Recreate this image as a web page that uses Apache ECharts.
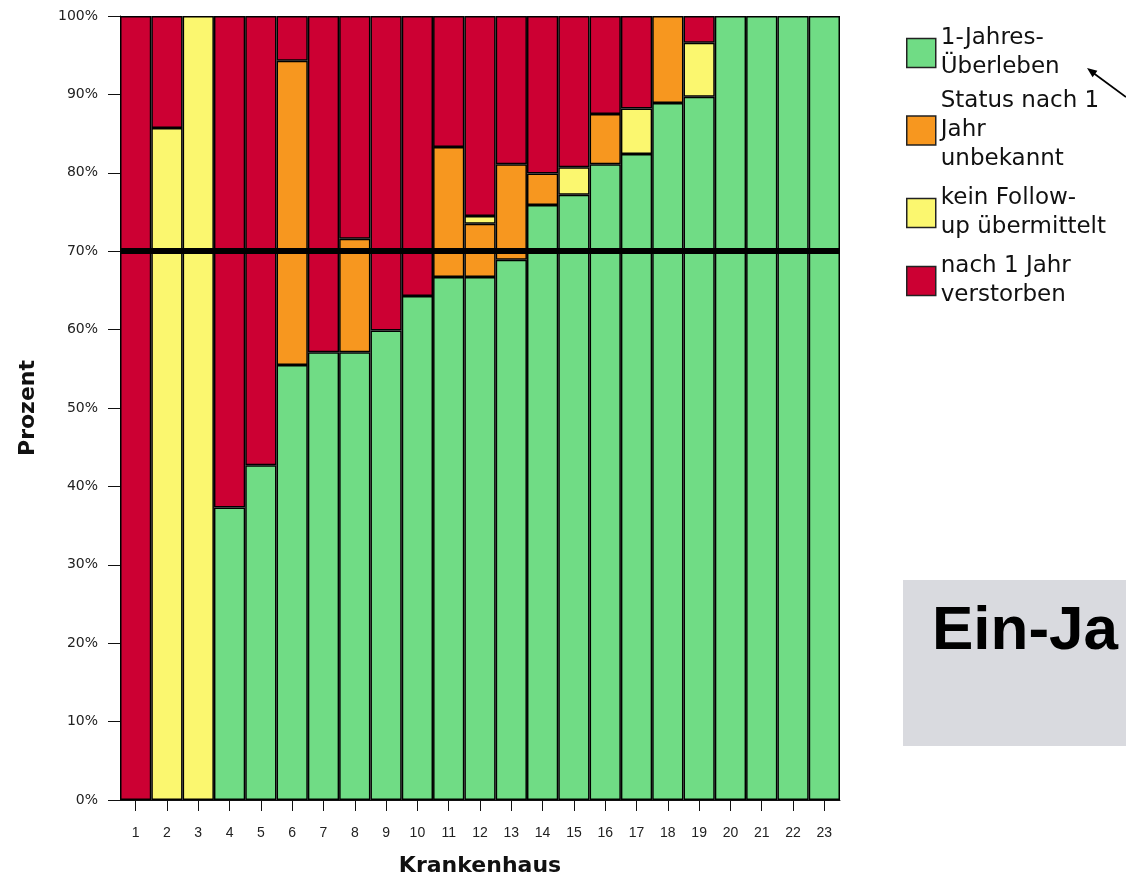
<!DOCTYPE html>
<html>
<head>
<meta charset="utf-8">
<script src="https://cdn.jsdelivr.net/npm/echarts@6/dist/echarts.min.js"></script>
<style>
html,body{margin:0;padding:0;background:#fff;}
#chart{width:1126px;height:878px;}
</style>
</head>
<body>
<div id="chart"></div>
<script>
const categories = ['1','2','3','4','5','6','7','8','9','10','11','12','13','14','15','16','17','18','19','20','21','22','23'];
const seriesNames = ['1-Jahres-\nÜberleben', 'Status nach 1\nJahr\nunbekannt', 'kein Follow-\nup übermittelt', 'nach 1 Jahr\nverstorben'];
const ueberleben = [0,0,0,37.3,42.7,55.5,57.1,57.1,59.9,64.3,66.7,66.7,68.9,75.9,77.2,81.1,82.4,88.9,89.7,100,100,100,100];
const unbekannt  = [0,0,0,0,0,38.8,0,14.5,0,0,16.6,6.8,12.2,4.0,0,6.4,0,11.1,0,0,0,0,0];
const keinFollowUp = [0,85.7,100,0,0,0,0,0,0,0,0,1.0,0,0,3.5,0,5.8,0,6.9,0,0,0,0];
const verstorben = [100,14.3,0,62.7,57.3,5.7,42.9,28.4,40.1,35.7,16.7,25.5,18.9,20.1,19.3,12.5,11.8,0,3.4,0,0,0,0];
const yTicks = [0,10,20,30,40,50,60,70,80,90,100];
const referenceLine = 70;

const colors = ['#70dc85', '#f7971f', '#fbf76f', '#cc0033'];
const values = [ueberleben, unbekannt, keinFollowUp, verstorben];

const chart = echarts.init(document.getElementById('chart'), null, {renderer: 'canvas'});

const series = values.map((arr, i) => {
  const s = {
    name: seriesNames[i],
    type: 'bar',
    stack: 'total',
    barCategoryGap: 0,
    data: arr.map(v => v === 0 ? '-' : v),
    itemStyle: {color: colors[i], borderColor: '#000', borderWidth: 1.5},
    emphasis: {disabled: true},
    silent: true
  };
  if (i === values.length - 1) {
    s.markLine = {
      silent: true,
      symbol: ['none', 'none'],
      label: {show: false},
      lineStyle: {color: '#000', width: 6, type: 'solid'},
      data: [{yAxis: referenceLine}]
    };
  }
  return s;
});

const legendText = {fontFamily: 'DejaVu Sans', fontSize: 23, color: '#111', lineHeight: 29};

const option = {
  backgroundColor: '#fff',
  animation: false,
  grid: {left: 120, right: 286, top: 16, bottom: 78, outerBoundsMode: 'none', containLabel: false},
  legend: {
    orient: 'vertical',
    left: 906,
    top: 24,
    padding: 0,
    itemWidth: 29,
    itemHeight: 29,
    itemGap: 5,
    icon: 'rect',
    selectedMode: false,
    itemStyle: {borderColor: '#222', borderWidth: 1.5},
    textStyle: legendText,
    data: [
      {name: seriesNames[0]},
      {name: seriesNames[1]},
      {name: seriesNames[2], textStyle: Object.assign({}, legendText, {padding: [10, 0, 0, 0]})},
      {name: seriesNames[3]}
    ]
  },
  xAxis: {
    type: 'category',
    data: categories,
    name: 'Krankenhaus',
    nameLocation: 'middle',
    nameGap: 55,
    nameTextStyle: {fontFamily: 'DejaVu Sans', fontWeight: 'bold', fontSize: 22, color: '#111'},
    axisLine: {show: true, lineStyle: {color: '#111', width: 1}},
    axisTick: {show: true, alignWithLabel: true, length: 11, lineStyle: {color: '#111'}},
    axisLabel: {fontFamily: 'Liberation Sans', fontSize: 14, color: '#222', margin: 26, interval: 0}
  },
  yAxis: {
    type: 'value',
    min: 0,
    max: 100,
    interval: 10,
    name: 'Prozent',
    nameLocation: 'middle',
    nameGap: 81,
    nameTextStyle: {fontFamily: 'DejaVu Sans', fontWeight: 'bold', fontSize: 22, color: '#111'},
    axisLine: {show: true, lineStyle: {color: '#111', width: 1}},
    axisTick: {show: true, length: 12, lineStyle: {color: '#111'}},
    splitLine: {show: false},
    axisLabel: {
      fontFamily: 'DejaVu Sans', fontSize: 14, color: '#222', margin: 22,
      formatter: v => yTicks.includes(v) ? v + '%' : ''
    }
  },
  series: series,
  graphic: [
    {
      type: 'line', silent: true,
      shape: {x1: 1126, y1: 97, x2: 1092, y2: 72},
      style: {stroke: '#000', lineWidth: 1.8}
    },
    {
      type: 'polygon', silent: true,
      shape: {points: [[1087, 68], [1097.4, 70.8], [1092.6, 77.2]]},
      style: {fill: '#000'}
    },
    {
      type: 'rect', silent: true,
      shape: {x: 903, y: 580, width: 223, height: 166},
      style: {fill: '#d9dadf'}
    },
    {
      type: 'text', silent: true,
      x: 932, y: 632,
      style: {text: 'Ein-Ja', fontFamily: 'Liberation Sans', fontWeight: 'bold', fontSize: 62, fill: '#000', verticalAlign: 'middle'}
    }
  ]
};
chart.setOption(option);
</script>
</body>
</html>
